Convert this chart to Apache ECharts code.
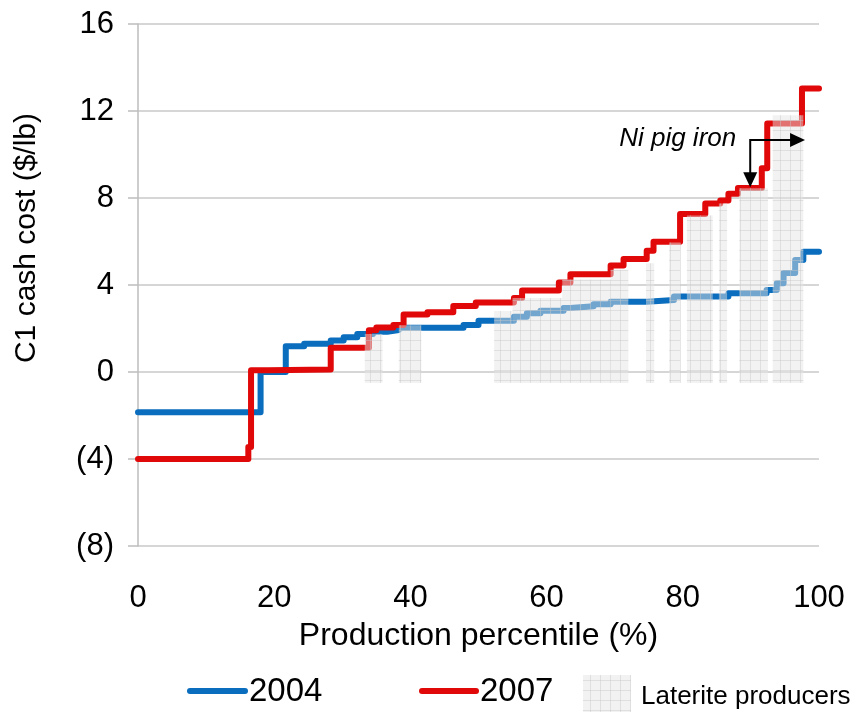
<!DOCTYPE html>
<html>
<head>
<meta charset="utf-8">
<script src="https://cdn.jsdelivr.net/npm/echarts@6/dist/echarts.min.js"></script>
<style>
html,body{margin:0;padding:0;background:#fff;}
#chart{width:857px;height:712px;}
</style>
</head>
<body>
<div id="chart"></div>
<script>
// ---- data ----
const xTicks = [0, 20, 40, 60, 80, 100];
const yTicks = [-8, -4, 0, 4, 8, 12, 16];

// 2004: step start percentile and cost level from there on
const pct2004 = [0, 18.0, 21.7, 24.4, 28.3, 30.2, 32.2, 34.5, 36.6, 38.3, 47.8, 50.0, 55.2, 57.1, 59.1, 62.5, 63.5, 66.9, 69.4, 74.7, 78.7, 86.7, 92.3, 93.8, 94.8, 96.5, 97.7, 100];
const cost2004 = [-1.85, 0.0, 1.18, 1.3, 1.45, 1.6, 1.75, 1.85, 1.93, 2.03, 2.16, 2.36, 2.54, 2.7, 2.82, 2.94, 3.02, 3.12, 3.23, 3.31, 3.47, 3.62, 3.77, 4.08, 4.55, 5.15, 5.53, 5.53];

// 2007
const pct2007 = [0, 16.2, 16.6, 19.1, 28.3, 33.9, 35.0, 37.5, 39.0, 42.5, 46.3, 49.6, 55.2, 56.4, 61.8, 63.5, 69.4, 71.3, 74.7, 75.7, 79.6, 83.3, 85.5, 86.7, 88.1, 91.6, 92.4, 97.5, 100];
const cost2007 = [-4.0, -3.45, 0.08, 0.12, 1.12, 1.92, 2.05, 2.16, 2.64, 2.75, 3.03, 3.2, 3.4, 3.75, 4.12, 4.5, 4.9, 5.2, 5.57, 5.99, 7.27, 7.75, 7.88, 8.2, 8.46, 9.37, 11.43, 13.04, 13.04];

// Laterite producers (shaded blocks)
const latStart = [33.3, 38.3, 52.3, 55.0, 62.3, 69.4, 74.6, 78.0, 80.6, 85.3, 88.3, 93.2];
const latEnd   = [35.9, 41.6, 55.0, 62.3, 69.4, 72.0, 75.8, 79.6, 84.4, 86.5, 92.5, 97.7];
const latTop   = [1.75, 2.15, 2.8, 3.4, 4.25, 4.7, 5.0, 5.95, 7.2, 7.75, 8.45, 11.8];
const latBase  = -0.5;

// Annotation "Ni pig iron": corner point, arrow down end, arrow right end
const annoCorner = [89.9, 10.67];
const annoDownTo = 8.5;
const annoRightTo = 97.95;

// ---- build ----
const zip = (a, b) => a.map((v, i) => [v, b[i]]);
const latData = latStart.map((s, i) => [s, latEnd[i], latTop[i], latBase]);

const chart = echarts.init(document.getElementById('chart'));
const FONT = '"Liberation Sans", Arial, sans-serif';
const FILL = 'rgba(228,228,228,0.48)';
const GRIDC = 'rgba(200,200,200,0.45)';

function gridRect(x, y, w, h) {
  const children = [{
    type: 'rect',
    shape: { x: x, y: y, width: w, height: h },
    style: { fill: FILL }
  }];
  for (let gx = Math.ceil(x / 10) * 10; gx < x + w; gx += 10) {
    children.push({ type: 'line', shape: { x1: gx + 0.5, y1: y, x2: gx + 0.5, y2: y + h },
      style: { stroke: GRIDC, lineWidth: 1 } });
  }
  for (let gy = Math.ceil(y / 10) * 10; gy < y + h; gy += 10) {
    children.push({ type: 'line', shape: { x1: x, y1: gy + 0.5, x2: x + w, y2: gy + 0.5 },
      style: { stroke: GRIDC, lineWidth: 1 } });
  }
  return children;
}

function renderLaterite(params, api) {
  const p0 = api.coord([api.value(0), api.value(2)]);
  const p1 = api.coord([api.value(1), api.value(3)]);
  return { type: 'group', children: gridRect(p0[0], p0[1], p1[0] - p0[0], p1[1] - p0[1]) };
}

function renderAnno(params, api) {
  const c = api.coord([api.value(0), api.value(1)]);
  const d = api.coord([api.value(0), api.value(2)]);
  const r = api.coord([api.value(3), api.value(1)]);
  const ah = 15, aw = 7;
  return {
    type: 'group',
    children: [
      { type: 'polyline', shape: { points: [[c[0], d[1] - ah + 1], [c[0], c[1]], [r[0] - ah + 1, c[1]]] },
        style: { stroke: '#000', lineWidth: 2, fill: null } },
      { type: 'polygon', shape: { points: [[c[0] - aw, d[1] - ah], [c[0] + aw, d[1] - ah], [c[0], d[1]]] },
        style: { fill: '#000' } },
      { type: 'polygon', shape: { points: [[r[0] - ah, c[1] - aw], [r[0] - ah, c[1] + aw], [r[0], c[1]]] },
        style: { fill: '#000' } },
      { type: 'text', x: c[0] - 14, y: c[1] - 1,
        style: { text: 'Ni pig iron', fontFamily: FONT, fontStyle: 'italic', fontSize: 26,
          fill: '#000', align: 'right', verticalAlign: 'middle' } }
    ]
  };
}

const option = {
  animation: false,
  backgroundColor: '#fff',
  grid: { left: 138, right: 38, top: 24, bottom: 166, containLabel: false },
  xAxis: {
    type: 'value', min: 0, max: 100, interval: 20,
    name: 'Production percentile (%)', nameLocation: 'middle', nameGap: 74,
    nameTextStyle: { fontFamily: FONT, fontSize: 32, color: '#000' },
    axisLine: { show: false }, axisTick: { show: false }, splitLine: { show: false },
    axisLabel: { fontFamily: FONT, fontSize: 31, color: '#000', margin: 37 }
  },
  yAxis: {
    type: 'value', min: -8, max: 16, interval: 4,
    name: 'C1 cash cost ($/lb)', nameLocation: 'middle', nameGap: 96,
    nameTextStyle: { fontFamily: FONT, fontSize: 30, color: '#000', padding: [0, 0, 0, 94] },
    axisLine: { show: true, lineStyle: { color: '#bdbdbd', width: 1.5 } },
    axisTick: { show: true, length: 10, lineStyle: { color: '#bdbdbd', width: 1.5 } },
    splitLine: { show: true, lineStyle: { color: '#c8c8c8', width: 1.5 } },
    axisLabel: { fontFamily: FONT, fontSize: 31, color: '#000', margin: 24,
      formatter: v => v < 0 ? '(' + Math.abs(v) + ')' : String(v) }
  },
  series: [
    { name: '2004', type: 'line', step: 'end', data: zip(pct2004, cost2004), symbol: 'none',
      lineStyle: { color: '#0a6dbd', width: 6, join: 'round', cap: 'round' }, z: 2 },
    { name: '2007', type: 'line', step: 'end', data: zip(pct2007, cost2007), symbol: 'none',
      lineStyle: { color: '#e00808', width: 6, join: 'round', cap: 'round' }, z: 3 },
    { name: 'Laterite producers', type: 'custom', renderItem: renderLaterite,
      encode: { x: [0, 1], y: [2, 3] }, data: latData, z: 4, silent: true },
    { name: 'anno', type: 'custom', renderItem: renderAnno,
      encode: { x: [0, 3], y: [1, 2] }, data: [[annoCorner[0], annoCorner[1], annoDownTo, annoRightTo]], z: 5, silent: true }
  ],
  graphic: [
    { type: 'line', shape: { x1: 190, y1: 691, x2: 245, y2: 691 }, style: { stroke: '#0a6dbd', lineWidth: 6, lineCap: 'round' } },
    { type: 'text', x: 249, y: 692, style: { text: '2004', fontFamily: FONT, fontSize: 33, fill: '#000', verticalAlign: 'middle' } },
    { type: 'line', shape: { x1: 422, y1: 691, x2: 476, y2: 691 }, style: { stroke: '#e00808', lineWidth: 6, lineCap: 'round' } },
    { type: 'text', x: 480, y: 692, style: { text: '2007', fontFamily: FONT, fontSize: 33, fill: '#000', verticalAlign: 'middle' } },
    { type: 'group', children: gridRect(583, 675, 48, 37) },
    { type: 'text', x: 641, y: 697, style: { text: 'Laterite producers', fontFamily: FONT, fontSize: 26, fill: '#000', verticalAlign: 'middle' } }
  ]
};
chart.setOption(option);
</script>
</body>
</html>
